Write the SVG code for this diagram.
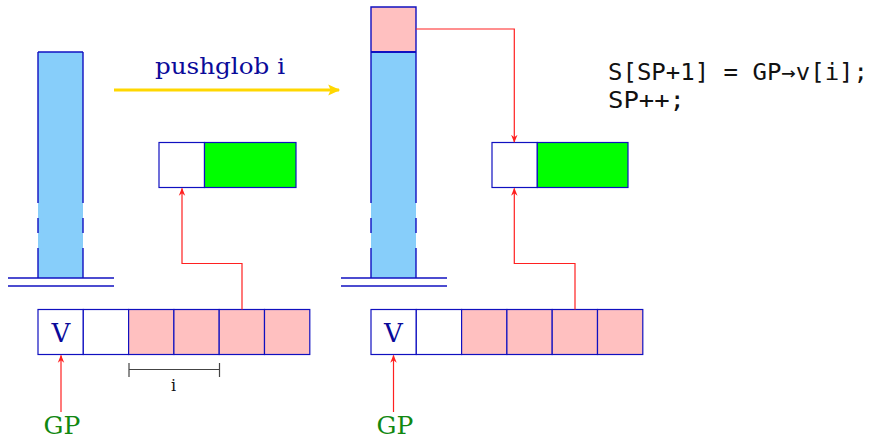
<svg xmlns="http://www.w3.org/2000/svg" width="870" height="440" viewBox="0 0 870 440">
<defs>
<style>
.cell{stroke:#1010c0;stroke-width:1.2}
.blue{fill:#87cefa}
.pink{fill:#ffc0c0}
.white{fill:#ffffff}
.green{fill:#00ff00}
.side{stroke:#1010c0;stroke-width:1.4;fill:none}
.base{stroke:#1010c0;stroke-width:1.4}
.red{stroke:#ff2020;stroke-width:1.2;fill:none}
.lbl{font-family:'DejaVu Serif',serif}
</style>
<marker id="ra" viewBox="0 0 10 10" refX="9" refY="5" markerWidth="8" markerHeight="8" markerUnits="userSpaceOnUse" orient="auto">
<path d="M0,1 L10,5 L0,9 L3,5 Z" fill="#ff2020"/>
</marker>
<marker id="ya" viewBox="0 0 10 10" refX="9" refY="5" markerWidth="14" markerHeight="12" markerUnits="userSpaceOnUse" orient="auto">
<path d="M0,0.5 L10,5 L0,9.5 L2,5 Z" fill="#ffd700"/>
</marker>
</defs>
<rect width="870" height="440" fill="#ffffff"/>

<g id="stack-left">
<rect x="38" y="52" width="45" height="226" class="blue"/>
<line x1="38" y1="52" x2="83" y2="52" class="base"/>
<path d="M38,52 V203 M38,218 V233 M38,248 V278 M83,52 V203 M83,218 V233 M83,248 V278" class="side"/>
<line x1="8" y1="278" x2="114" y2="278" class="base"/>
<line x1="8" y1="286" x2="114" y2="286" class="base"/>
</g>

<g id="transition">
<line x1="114" y1="90" x2="339" y2="90" stroke="#ffd700" stroke-width="3" marker-end="url(#ya)"/>
<text x="155" y="74" class="lbl" font-size="22" fill="#0a0a9a" textLength="130" lengthAdjust="spacingAndGlyphs">pushglob i</text>
</g>

<g id="vec-left">
<rect x="159" y="142.5" width="45.5" height="45" class="cell white"/>
<rect x="204.5" y="142.5" width="91.5" height="45" class="cell green"/>
</g>

<g id="mem-left">
<rect x="38" y="309.5" width="45.3" height="45" class="cell white"/>
<rect x="83.3" y="309.5" width="45.3" height="45" class="cell white"/>
<rect x="128.6" y="309.5" width="45.3" height="45" class="cell pink"/>
<rect x="173.9" y="309.5" width="45.3" height="45" class="cell pink"/>
<rect x="219.2" y="309.5" width="45.3" height="45" class="cell pink"/>
<rect x="264.5" y="309.5" width="45.3" height="45" class="cell pink"/>
<text x="61" y="342" text-anchor="middle" class="lbl" font-size="26" fill="#0a0a9a">V</text>
</g>

<g id="measure">
<path d="M129,369.5 H219.5 M129,363 V377 M219.5,363 V377" stroke="#444" stroke-width="1.2" fill="none"/>
<text x="173.5" y="391" text-anchor="middle" class="lbl" font-size="16" fill="#111">i</text>
</g>

<g id="gp-left">
<text x="62" y="434" text-anchor="middle" class="lbl" font-size="25" fill="#118811">GP</text>
</g>

<g id="stack-right">
<rect x="371" y="52" width="45" height="226" class="blue"/>
<rect x="371" y="7" width="45" height="45" class="pink"/>
<path d="M371,52 V7 H416 V52" class="side"/>
<line x1="371" y1="52" x2="416" y2="52" stroke="#1010c0" stroke-width="2"/>
<path d="M371,52 V203 M371,218 V233 M371,248 V278 M416,52 V203 M416,218 V233 M416,248 V278" class="side"/>
<line x1="341" y1="278" x2="447" y2="278" class="base"/>
<line x1="341" y1="286" x2="447" y2="286" class="base"/>
</g>

<g id="vec-right">
<rect x="492" y="142.5" width="45.3" height="45" class="cell white"/>
<rect x="537.3" y="142.5" width="90.7" height="45" class="cell green"/>
</g>

<g id="mem-right">
<rect x="371" y="309.5" width="45.3" height="45" class="cell white"/>
<rect x="416.3" y="309.5" width="45.3" height="45" class="cell white"/>
<rect x="461.6" y="309.5" width="45.3" height="45" class="cell pink"/>
<rect x="506.9" y="309.5" width="45.3" height="45" class="cell pink"/>
<rect x="552.2" y="309.5" width="45.3" height="45" class="cell pink"/>
<rect x="597.5" y="309.5" width="45.3" height="45" class="cell pink"/>
<text x="393.5" y="342" text-anchor="middle" class="lbl" font-size="26" fill="#0a0a9a">V</text>
</g>

<g id="gp-right">
<text x="395" y="434" text-anchor="middle" class="lbl" font-size="25" fill="#118811">GP</text>
</g>

<g id="code">
<text x="608" y="80" font-family="DejaVu Sans Mono,monospace" font-size="23" fill="#111" textLength="260" lengthAdjust="spacingAndGlyphs">S[SP+1] = GP→v[i];</text>
<text x="608" y="108" font-family="DejaVu Sans Mono,monospace" font-size="23" fill="#111" textLength="77" lengthAdjust="spacingAndGlyphs">SP++;</text>
</g>

<g id="connectors">
<path d="M242,309.5 V263.5 H182 V188.5" class="red" marker-end="url(#ra)"/>
<path d="M61,412 V355.5" class="red" marker-end="url(#ra)"/>
<path d="M416,29 H514.3 V142" class="red" marker-end="url(#ra)"/>
<path d="M575,309.5 V263.5 H514.3 V188.5" class="red" marker-end="url(#ra)"/>
<path d="M393.5,412 V355.5" class="red" marker-end="url(#ra)"/>
</g>
</svg>
